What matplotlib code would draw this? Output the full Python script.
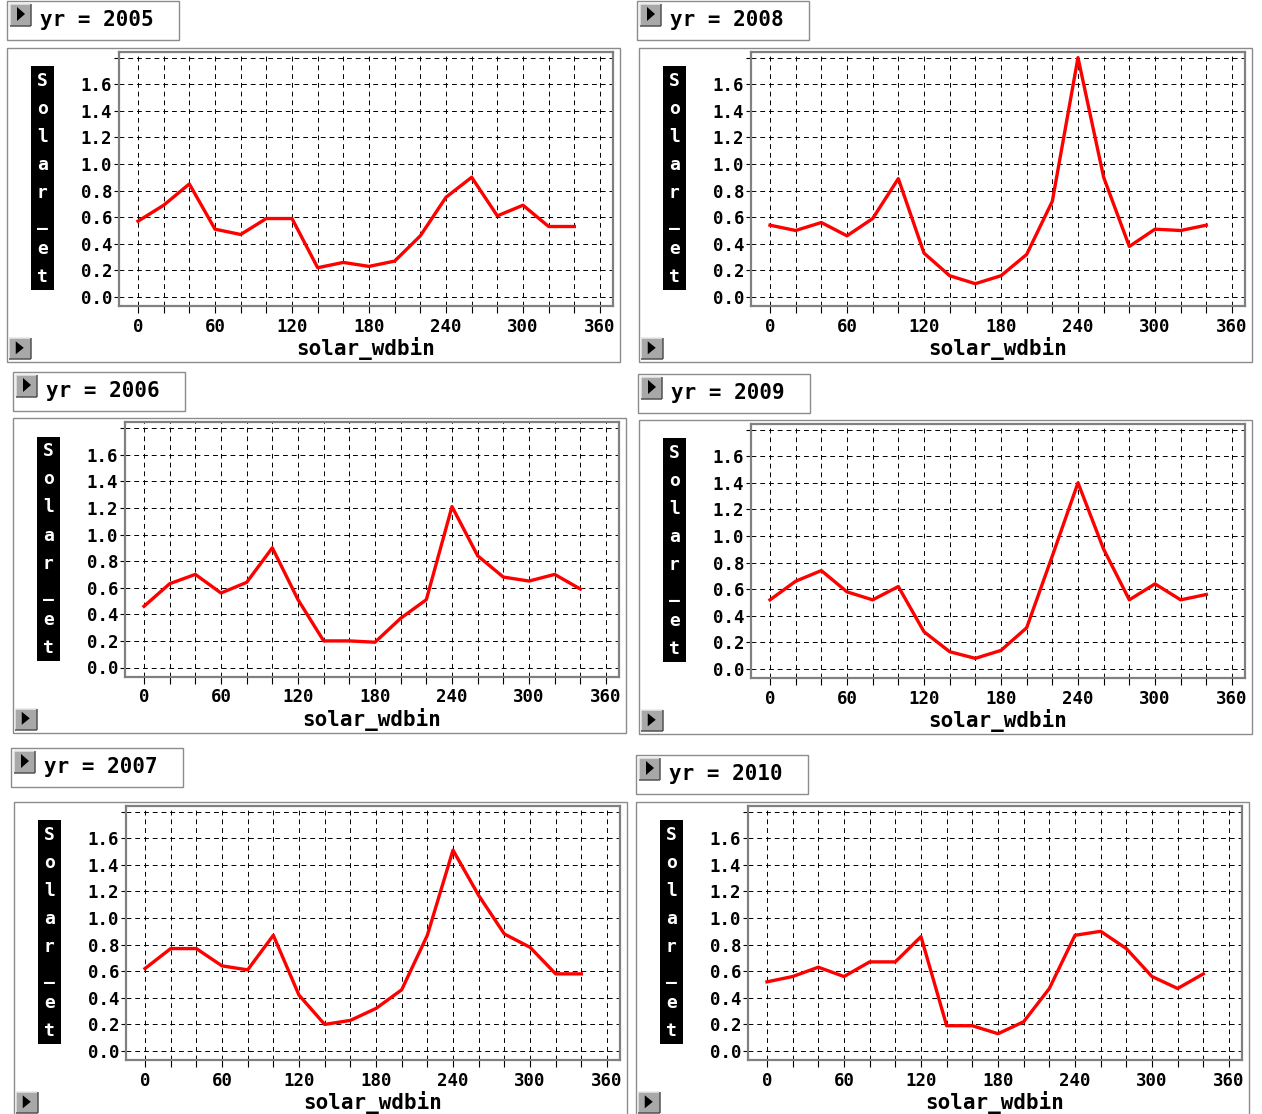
import matplotlib
matplotlib.use("Agg")
import matplotlib.pyplot as plt
from matplotlib.patches import Rectangle, Polygon

W, H = 1262, 1114
DPI = 100

# ---- data -----------------------------------------------------------------
wdbin = [0, 20, 40, 60, 80, 100, 120, 140, 160, 180, 200, 220, 240, 260, 280, 300, 320, 340]

solar_2005 = [0.57, 0.69, 0.85, 0.51, 0.47, 0.59, 0.59, 0.22, 0.26, 0.23, 0.27, 0.46, 0.75, 0.90, 0.61, 0.69, 0.53, 0.53]
solar_2006 = [0.46, 0.63, 0.70, 0.56, 0.64, 0.90, 0.51, 0.20, 0.20, 0.19, 0.37, 0.51, 1.21, 0.84, 0.68, 0.65, 0.70, 0.59]
solar_2007 = [0.62, 0.77, 0.77, 0.64, 0.61, 0.87, 0.42, 0.20, 0.23, 0.32, 0.46, 0.87, 1.51, 1.17, 0.88, 0.78, 0.58, 0.58]
solar_2008 = [0.54, 0.50, 0.56, 0.46, 0.59, 0.89, 0.33, 0.16, 0.10, 0.16, 0.32, 0.72, 1.80, 0.90, 0.38, 0.51, 0.50, 0.54]
solar_2009 = [0.52, 0.66, 0.74, 0.58, 0.52, 0.62, 0.28, 0.13, 0.08, 0.14, 0.31, 0.85, 1.40, 0.90, 0.52, 0.64, 0.52, 0.56]
solar_2010 = [0.52, 0.56, 0.63, 0.56, 0.67, 0.67, 0.86, 0.19, 0.19, 0.13, 0.22, 0.47, 0.87, 0.90, 0.77, 0.56, 0.47, 0.58]

years = [2005, 2008, 2006, 2009, 2007, 2010]
series = {2005: solar_2005, 2006: solar_2006, 2007: solar_2007,
          2008: solar_2008, 2009: solar_2009, 2010: solar_2010}

x_ticks = [0, 20, 40, 60, 80, 100, 120, 140, 160, 180, 200, 220, 240, 260, 280, 300, 320, 340, 360]
x_tick_labels = ['0', '', '', '60', '', '', '120', '', '', '180', '', '', '240', '', '', '300', '', '', '360']
y_ticks = [0.0, 0.2, 0.4, 0.6, 0.8, 1.0, 1.2, 1.4, 1.6, 1.8]
y_tick_labels = ['0.0', '0.2', '0.4', '0.6', '0.8', '1.0', '1.2', '1.4', '1.6', '']
x_label = 'solar_wdbin'
y_label = 'Solar_et'

# ---- layout (pixels) --------------------------------------------------------
XLIM = (-15, 370)
YLIM = (-0.07, 1.845)
SX = 1.2833      # px per x unit
SY = 133.0       # px per y unit

# year: (pixel of x=0, pixel of y=0, header left, header top)
layout = {
    2005: (138, 297.0, 7, 1),
    2008: (770, 297.0, 637, 1),
    2006: (144, 667.5, 13, 372),
    2009: (770, 669.0, 638, 374),
    2007: (145, 1051.0, 11, 748),
    2010: (767, 1051.0, 636, 755),
}

MONO = 'DejaVu Sans Mono'
plt.rcParams['font.family'] = [MONO, 'DejaVu Sans']

fig = plt.figure(figsize=(W / DPI, H / DPI), dpi=DPI)
fig.patch.set_facecolor('white')

bg = fig.add_axes([0, 0, 1, 1])
bg.set_xlim(0, W)
bg.set_ylim(H, 0)
bg.axis('off')
bg.set_zorder(0)

PX = 0.72  # points per pixel


def draw_button(x, y, w, h):
    bg.add_patch(Rectangle((x, y), w, h, facecolor='#a8a8a8', edgecolor='none'))
    bg.plot([x, x + w], [y, y], color='#e8e8e8', lw=1.5 * PX, solid_capstyle='butt')
    bg.plot([x, x], [y, y + h], color='#e8e8e8', lw=1.5 * PX, solid_capstyle='butt')
    bg.plot([x, x + w], [y + h, y + h], color='#505050', lw=1.5 * PX, solid_capstyle='butt')
    bg.plot([x + w, x + w], [y, y + h], color='#505050', lw=1.5 * PX, solid_capstyle='butt')
    bg.add_patch(Polygon([(x + 7, y + 3), (x + 7, y + h - 5), (x + 15, y + (h - 2) / 2)],
                         closed=True, facecolor='black', edgecolor='none'))


for year in years:
    x0, y0, hl, ht = layout[year]
    left = x0 + XLIM[0] * SX
    right = x0 + XLIM[1] * SX
    top = y0 - YLIM[1] * SY
    bottom = y0 - YLIM[0] * SY

    ax = fig.add_axes([left / W, 1 - bottom / H, (right - left) / W, (bottom - top) / H])
    ax.set_zorder(1)
    ax.plot(wdbin, series[year], color='#ff0000', lw=2.4, zorder=3)
    ax.set_xlim(XLIM)
    ax.set_ylim(YLIM)
    ax.set_xticks(x_ticks)
    ax.set_xticklabels(x_tick_labels)
    ax.set_yticks(y_ticks)
    ax.set_yticklabels(y_tick_labels)
    ax.grid(True, color='black', linestyle=(0, (5, 4)), linewidth=0.7)
    ax.tick_params(axis='x', direction='out', length=4.7, width=0.8, color='black',
                   labelsize=12.5, pad=3.5)
    ax.tick_params(axis='y', direction='out', length=3.6, width=0.8, color='black',
                   labelsize=12.5, pad=1.0)
    for lab in ax.get_xticklabels() + ax.get_yticklabels():
        lab.set_fontfamily(MONO)
        lab.set_fontweight('bold')
    for sp in ax.spines.values():
        sp.set_color('#808080')
        sp.set_linewidth(1.6)
    ax.set_xlabel(x_label, fontfamily=MONO, fontweight='bold', fontsize=15, labelpad=1)

    # panel frame
    bg.add_patch(Rectangle((left - 112, top - 4), (right - left) + 119, (bottom - top) + 60,
                           fill=False, edgecolor='#8c8c8c', lw=1.4 * PX))
    draw_button(left - 110, bottom + 32, 22, 21)

    # header strip
    bg.add_patch(Rectangle((hl, ht), 172, 39, fill=False, edgecolor='#8c8c8c', lw=1.4 * PX))
    draw_button(hl + 3, ht + 3, 21, 22)
    bg.text(hl + 33, ht + 19, f'yr = {year}', fontfamily=MONO, fontweight='bold',
            fontsize=15, ha='left', va='center', color='black')

    # vertical axis label block
    box_top = y0 - 1.6 * SY - 18
    box_bot = y0 - 7
    bg.add_patch(Rectangle((left - 88, box_top), 23, box_bot - box_top,
                           facecolor='black', edgecolor='none'))
    bg.text(left - 76.5, (box_top + box_bot) / 2 + 1, '\n'.join(y_label), color='white',
            fontfamily=MONO, fontweight='bold', fontsize=13, ha='center', va='center',
            linespacing=1.72)

fig.savefig('out.png', dpi=DPI, facecolor='white')
